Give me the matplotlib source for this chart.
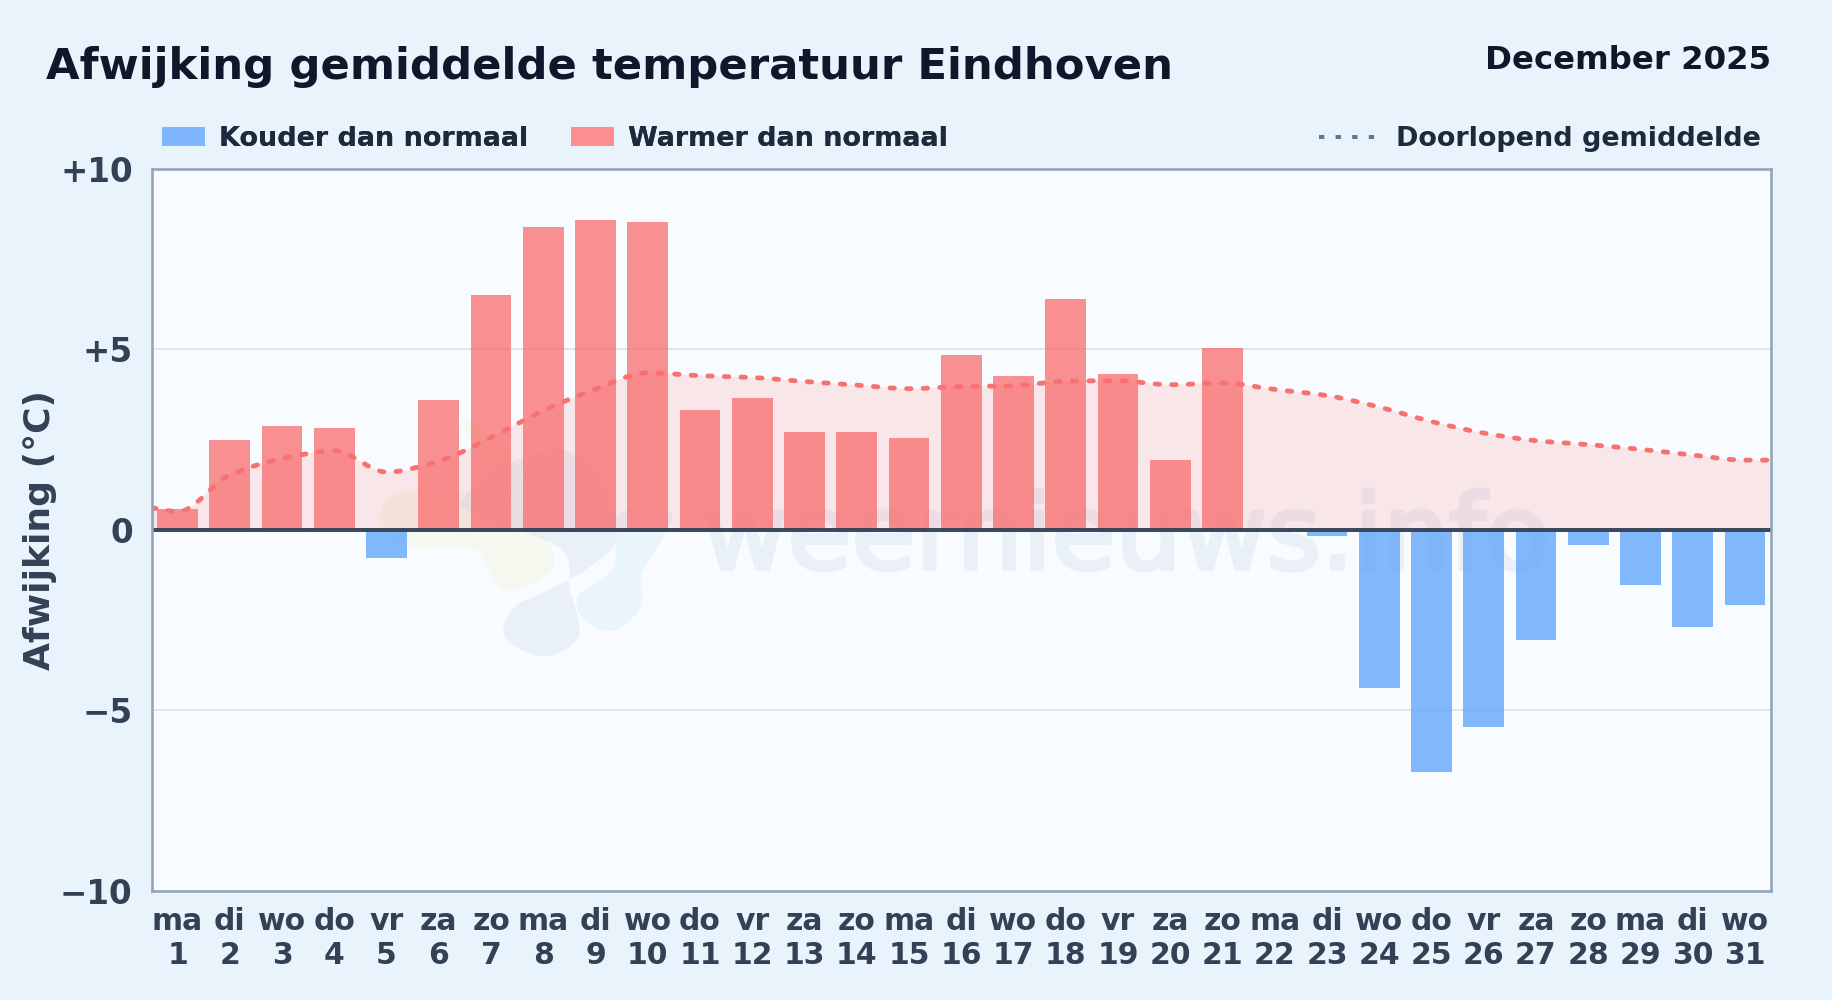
import numpy as np
import matplotlib
matplotlib.use("Agg")
import matplotlib.pyplot as plt
import matplotlib.patheffects as pe
from matplotlib.path import Path
from matplotlib.patches import PathPatch, Patch
from matplotlib.lines import Line2D
from matplotlib.transforms import Affine2D

plt.rcParams['font.family'] = ['DejaVu Sans']
plt.rcParams['lines.scale_dashes'] = False

weekdays = ["ma","di","wo","do","vr","za","zo","ma","di","wo","do","vr","za","zo","ma","di",
            "wo","do","vr","za","zo","ma","di","wo","do","vr","za","zo","ma","di","wo"]
days = list(range(1, 32))
deviation = [0.57, 2.48, 2.87, 2.82, -0.78, 3.61, 6.50, 8.39, 8.60, 8.54, 3.32, 3.65, 2.71, 2.71,
             2.55, 4.85, 4.26, 6.40, 4.33, 1.93, 5.04, 0.0, -0.16, -4.38, -6.72, -5.47, -3.05,
             -0.42, -1.53, -2.69, -2.08]
running_mean = [0.50, 1.52, 1.97, 2.19, 1.60, 1.90, 2.56, 3.30, 3.90, 4.35, 4.27, 4.22, 4.11, 4.01,
                3.91, 3.97, 3.99, 4.12, 4.13, 4.02, 4.07, 3.89, 3.72, 3.40, 3.00, 2.68, 2.47,
                2.36, 2.23, 2.07, 1.93]
y_ticks = [-10, -5, 0, 5, 10]
y_tick_labels = ["\u221210", "\u22125", "0", "+5", "+10"]

W, H = 1832, 1000
BG = "#e9f3fc"
fig = plt.figure(figsize=(W/100, H/100), dpi=100, facecolor=BG)
L, R, T, B = 151.5, 1771, 169, 890.5
ax = fig.add_axes([L/W, 1-B/H, (R-L)/W, (B-T)/H], facecolor="#f8fbff")
px = 0.72  # points per pixel at dpi 100

# watermark (logo blobs + text), in 1568-wide screen coordinates
S = W/1568
scr = Affine2D().scale(S, -S).translate(0, H)
def blob(pts, color, alpha):
    p = np.array(pts, float)
    n = len(p)
    verts = [p[0]]; codes = [Path.MOVETO]
    for i in range(n):
        p0, p1, p2, p3 = p[i-1], p[i], p[(i+1) % n], p[(i+2) % n]
        verts += [p1+(p2-p0)/6, p2-(p3-p1)/6, p2]
        codes += [Path.CURVE4]*3
    ax.add_patch(PathPatch(Path(verts, codes), transform=scr, fc=color, ec="none", alpha=alpha, zorder=1, clip_on=True))
blob([(395,360),(440,395),(435,420),(345,420),(325,445),(345,468),(405,470),(430,505),(470,490),(470,465),(440,430)], "#eef3c8", 0.30)
blob([(430,400),(480,385),(515,410),(528,460),(505,485),(470,505),(440,520),(432,545),(465,562),(495,545),(488,505),(480,470),(420,445),(395,430)], "#dbe7f3", 0.50)
blob([(530,440),(575,440),(550,490),(548,520),(525,540),(500,530),(495,510),(525,485)], "#dff0fc", 0.55)
wm = ax.text(601*S, H-487*S, "weernieuws.info", transform=Affine2D(), fontsize=75, color="#e9f0f8",
             ha="left", va="baseline", zorder=1, clip_on=True)
wm.set_path_effects([pe.withStroke(linewidth=3, foreground="#e9f0f8")])

ax.set_xlim(-0.5, 30.5)
ax.set_ylim(-10, 10)
ax.yaxis.grid(True, color="#dfe6ec", lw=2*px, zorder=2)
ax.set_axisbelow(True)

x = np.arange(len(days))
# smooth running mean as monotone cubic Beziers through the read values
xs = np.r_[-0.5, x, 30.5]
ys = np.r_[0.6, running_mean, running_mean[-1]]
d = np.diff(ys)/np.diff(xs)
m = np.zeros_like(ys)
for i in range(1, len(ys)-1):
    m[i] = 0 if d[i-1]*d[i] <= 0 else 2*d[i-1]*d[i]/(d[i-1]+d[i])
verts = [(xs[0], ys[0])]; codes = [Path.MOVETO]
for i in range(len(xs)-1):
    h = xs[i+1]-xs[i]
    verts += [(xs[i]+h/3, ys[i]+m[i]*h/3), (xs[i+1]-h/3, ys[i+1]-m[i+1]*h/3), (xs[i+1], ys[i+1])]
    codes += [Path.CURVE4]*3
area = Path(verts+[(xs[-1],0),(xs[0],0),(xs[0],ys[0])], codes+[Path.LINETO,Path.LINETO,Path.LINETO])
ax.add_patch(PathPatch(area, fc="#f87171", ec="none", alpha=0.15, zorder=2.5))

colors = ["#60a5fa" if v < 0 else "#f87171" for v in deviation]
ax.bar(x, deviation, width=0.78, color=colors, alpha=0.78, zorder=3, linewidth=0)

ax.add_patch(PathPatch(Path(verts, codes), fc="none", ec="#f87171", lw=4.8*px, capstyle="round",
                       linestyle=(0, (4.5*px, 12.1*px)), zorder=4))
ax.axhline(0, color="#334155", lw=4*px, zorder=5, alpha=0.95)

for s in ax.spines.values():
    s.set_color("#94a3b8"); s.set_linewidth(2.6*px); s.set_zorder(6)

ax.set_yticks(y_ticks, y_tick_labels)
ax.set_xticks(x, [f"{w}\n{d_}" for w, d_ in zip(weekdays, days)])
ax.tick_params(axis="y", length=0, pad=13.5, labelsize=23.5, labelcolor="#334155")
ax.tick_params(axis="x", length=0, pad=12, labelsize=21.5, labelcolor="#334155")
for t in ax.get_xticklabels()+ax.get_yticklabels():
    t.set_fontweight("bold")
for t in ax.get_xticklabels():
    t.set_linespacing(1.22)

fig.text(40/W, 1-530/H, "Afwijking (\u00b0C)", rotation=90, ha="center", va="center",
         fontsize=26, fontweight="bold", color="#334155")
fig.text(46/W, 1-67.5/H, "Afwijking gemiddelde temperatuur Eindhoven", ha="left", va="center",
         fontsize=31.2, fontweight="bold", color="#0f172a")
fig.text(1771/W, 1-60.5/H, "December 2025", ha="right", va="center",
         fontsize=23.3, fontweight="bold", color="#0f172a")

fs = 19.45
leg1 = fig.legend(handles=[Patch(fc="#80b6fb", ec="none", label="Kouder dan normaal"),
                           Patch(fc="#fb8e8e", ec="none", label="Warmer dan normaal")],
                  loc="center left", bbox_to_anchor=(162/W, 1-139/H), ncol=2, frameon=False,
                  handlelength=1.6, handleheight=0.7, handletextpad=0.5, columnspacing=1.6, borderpad=0, borderaxespad=0,
                  prop={"size": fs, "weight": "bold"}, labelcolor="#1e293b")
leg2 = fig.legend(handles=[Line2D([], [], color="#64748b", lw=4*px, linestyle=(0, (5.3*px, 11.3*px)),
                                  dash_capstyle="butt", label="Doorlopend gemiddelde")],
                  loc="center right", bbox_to_anchor=(1761/W, 1-139/H), frameon=False,
                  handlelength=2.1, handletextpad=0.75, borderpad=0, borderaxespad=0,
                  prop={"size": fs, "weight": "bold"}, labelcolor="#1e293b")
fig.add_artist(leg1)
fig.savefig("out.png", dpi=100, facecolor=BG)
